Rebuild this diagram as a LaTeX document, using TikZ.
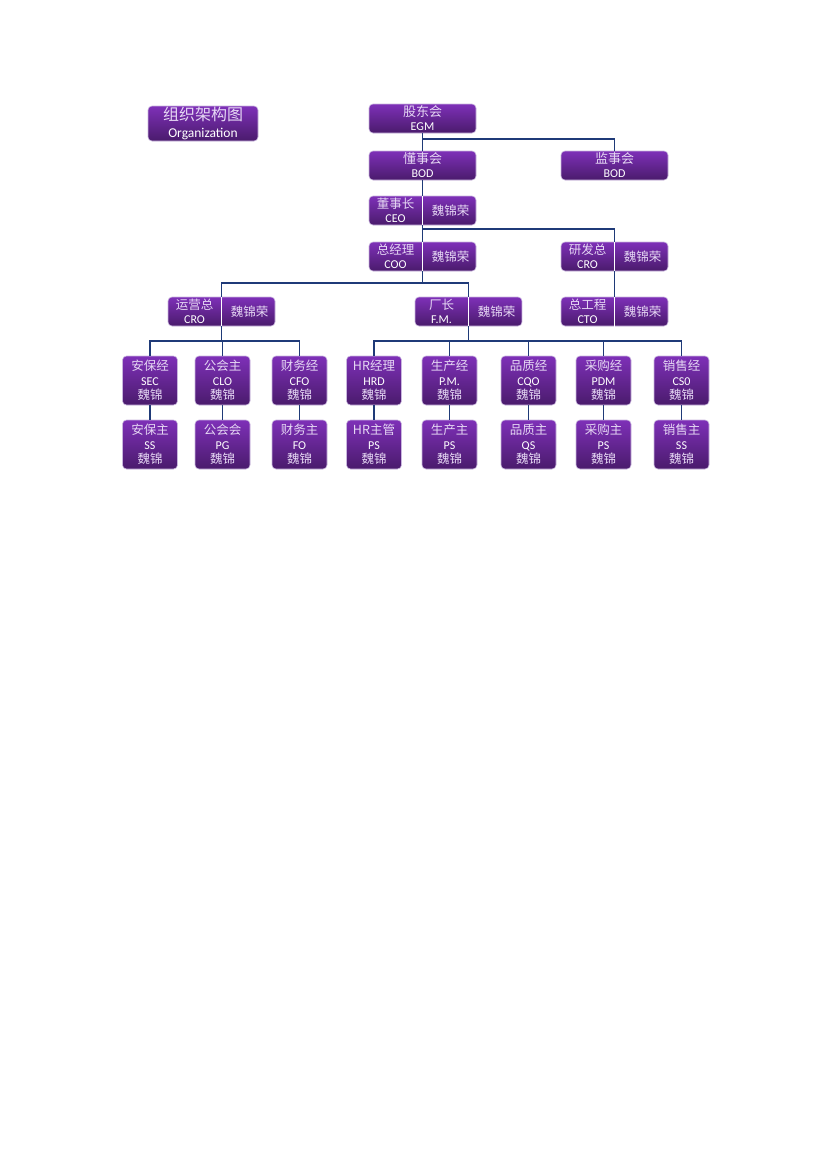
\documentclass[tikz,border=0pt]{standalone}
\usepackage{fontspec}
\usepackage{tikz}
\setmainfont{Carlito}
\newfontfamily\zhfont{Noto Sans CJK SC}
\definecolor{boxtop}{HTML}{7E30B8}
\definecolor{boxbot}{HTML}{4A1B6C}
\definecolor{boxedge}{HTML}{C9B6DE}
\definecolor{zhcol}{HTML}{E6D8F4}
\definecolor{linkcol}{HTML}{1F3A78}
\newcommand{\zhtxt}[1]{{\color{zhcol}\zhfont\fontsize{12.5}{14}\selectfont #1}}

\tikzset{
	box/.style={draw=boxedge, line width=0.6pt, rounded corners=4pt,
		top color=boxtop, bottom color=boxbot, text=white,
		minimum width=107pt, minimum height=29pt, inner sep=0pt,
		align=center, font=\fontsize{12}{14}\selectfont},
	cell/.style={box, minimum width=55pt, minimum height=49pt,
		font=\fontsize{12}{14.5}\selectfont},
	lbl/.style={text=white, inner sep=0pt, align=center, font=\fontsize{12}{14}\selectfont},
	divider/.style={draw=white, line width=0.8pt},
	link/.style={draw=linkcol, line width=1.5pt}
}

\begin{document}
\begin{tikzpicture}[x=1pt, y=-1pt]
	\useasboundingbox (0,0) rectangle (827,1170);

	% title
	\node[box, minimum width=110pt, minimum height=35pt, font=\fontsize{13.5}{17}\selectfont] (title) at (203,123.5)
		{{\color{zhcol}\zhfont\fontsize{16}{17}\selectfont 组织架构图}\\Organization};

	% boards
	\node[box] (egm) at (422.5,118.5) {{\color{zhcol}\zhfont\fontsize{13}{14}\selectfont 股东会}\\EGM};
	\node[box] (bod) at (422.5,165.5) {{\color{zhcol}\zhfont\fontsize{13}{14}\selectfont 懂事会}\\BOD};
	\node[box] (sup) at (614.5,165.5) {{\color{zhcol}\zhfont\fontsize{13}{14}\selectfont 监事会}\\BOD};

	% split boxes
	\node[box] (ceo) at (422.5,210.5) {};
	\node[box] (coo) at (422.5,256.5) {};
	\node[box] (rd)  at (614.5,256.5) {};
	\node[box] (ops) at (221.5,311.5) {};
	\node[box] (fm)  at (468.5,311.5) {};
	\node[box] (cto) at (614.5,311.5) {};

	\foreach \n in {ceo,coo,rd,ops,fm,cto}
		\draw[divider] ([yshift=3]\n.north) -- ([yshift=-3]\n.south);

	\node[lbl] (ceo-l) at ([xshift=-27]ceo.center) {\zhtxt{董事长}\\CEO};
	\node[lbl] (coo-l) at ([xshift=-27]coo.center) {\zhtxt{总经理}\\COO};
	\node[lbl] (rd-l)  at ([xshift=-27]rd.center)  {\zhtxt{研发总}\\CRO};
	\node[lbl] (ops-l) at ([xshift=-27]ops.center) {\zhtxt{运营总}\\CRO};
	\node[lbl] (fm-l)  at ([xshift=-27]fm.center)  {\zhtxt{厂长}\\F.M.};
	\node[lbl] (cto-l) at ([xshift=-27]cto.center) {\zhtxt{总工程}\\CTO};

	\foreach \n in {ceo,coo,rd,ops,fm,cto}
		\node[lbl] (\n-r) at ([xshift=28]\n.center) {\zhtxt{魏锦荣}};

	% managers
	\node[cell] (sec) at (150,380.5)   {\zhtxt{安保经}\\SEC\\\zhtxt{魏锦}};
	\node[cell] (clo) at (222.5,380.5) {\zhtxt{公会主}\\CLO\\\zhtxt{魏锦}};
	\node[cell] (cfo) at (299.5,380.5) {\zhtxt{财务经}\\CFO\\\zhtxt{魏锦}};
	\node[cell] (hrd) at (374,380.5)   {\zhtxt{HR经理}\\HRD\\\zhtxt{魏锦}};
	\node[cell] (pm)  at (449.5,380.5) {\zhtxt{生产经}\\P.M.\\\zhtxt{魏锦}};
	\node[cell] (cqo) at (528.5,380.5) {\zhtxt{品质经}\\CQO\\\zhtxt{魏锦}};
	\node[cell] (pdm) at (603.5,380.5) {\zhtxt{采购经}\\PDM\\\zhtxt{魏锦}};
	\node[cell] (cso) at (681.5,380.5) {\zhtxt{销售经}\\CS0\\\zhtxt{魏锦}};

	% supervisors
	\node[cell] (ss)  at (150,444.5)   {\zhtxt{安保主}\\SS\\\zhtxt{魏锦}};
	\node[cell] (pg)  at (222.5,444.5) {\zhtxt{公会会}\\PG\\\zhtxt{魏锦}};
	\node[cell] (fo)  at (299.5,444.5) {\zhtxt{财务主}\\FO\\\zhtxt{魏锦}};
	\node[cell] (hrs) at (374,444.5)   {\zhtxt{HR主管}\\PS\\\zhtxt{魏锦}};
	\node[cell] (pds) at (449.5,444.5) {\zhtxt{生产主}\\PS\\\zhtxt{魏锦}};
	\node[cell] (qs)  at (528.5,444.5) {\zhtxt{品质主}\\QS\\\zhtxt{魏锦}};
	\node[cell] (pus) at (603.5,444.5) {\zhtxt{采购主}\\PS\\\zhtxt{魏锦}};
	\node[cell] (sas) at (681.5,444.5) {\zhtxt{销售主}\\SS\\\zhtxt{魏锦}};

	% junctions
	\coordinate (j1) at (422.5,139);
	\coordinate (j2) at (422.5,229);
	\coordinate (j3) at (422.5,283);
	\coordinate (j4) at (221.5,341);
	\coordinate (j5) at (468.5,341);

	\draw[link] (egm) -- (bod);
	\draw[link] (j1) -| (sup);
	\draw[link] (bod) -- (ceo);
	\draw[link] (ceo) -- (coo);
	\draw[link] (j2) -| (rd);
	\draw[link] (rd) -- (cto);
	\draw[link] (coo) -- (j3);
	\draw[link] (j3) -| (ops);
	\draw[link] (j3) -| (fm);
	\draw[link] (ops) -- (j4);
	\draw[link] (fm) -- (j5);
	\foreach \n in {sec,clo,cfo}
		\draw[link] (j4) -| (\n);
	\foreach \n in {hrd,pm,cqo,pdm,cso}
		\draw[link] (j5) -| (\n);
	\foreach \a/\b in {sec/ss,clo/pg,cfo/fo,hrd/hrs,pm/pds,cqo/qs,pdm/pus,cso/sas}
		\draw[link] (\a) -- (\b);

\end{tikzpicture}
\end{document}
